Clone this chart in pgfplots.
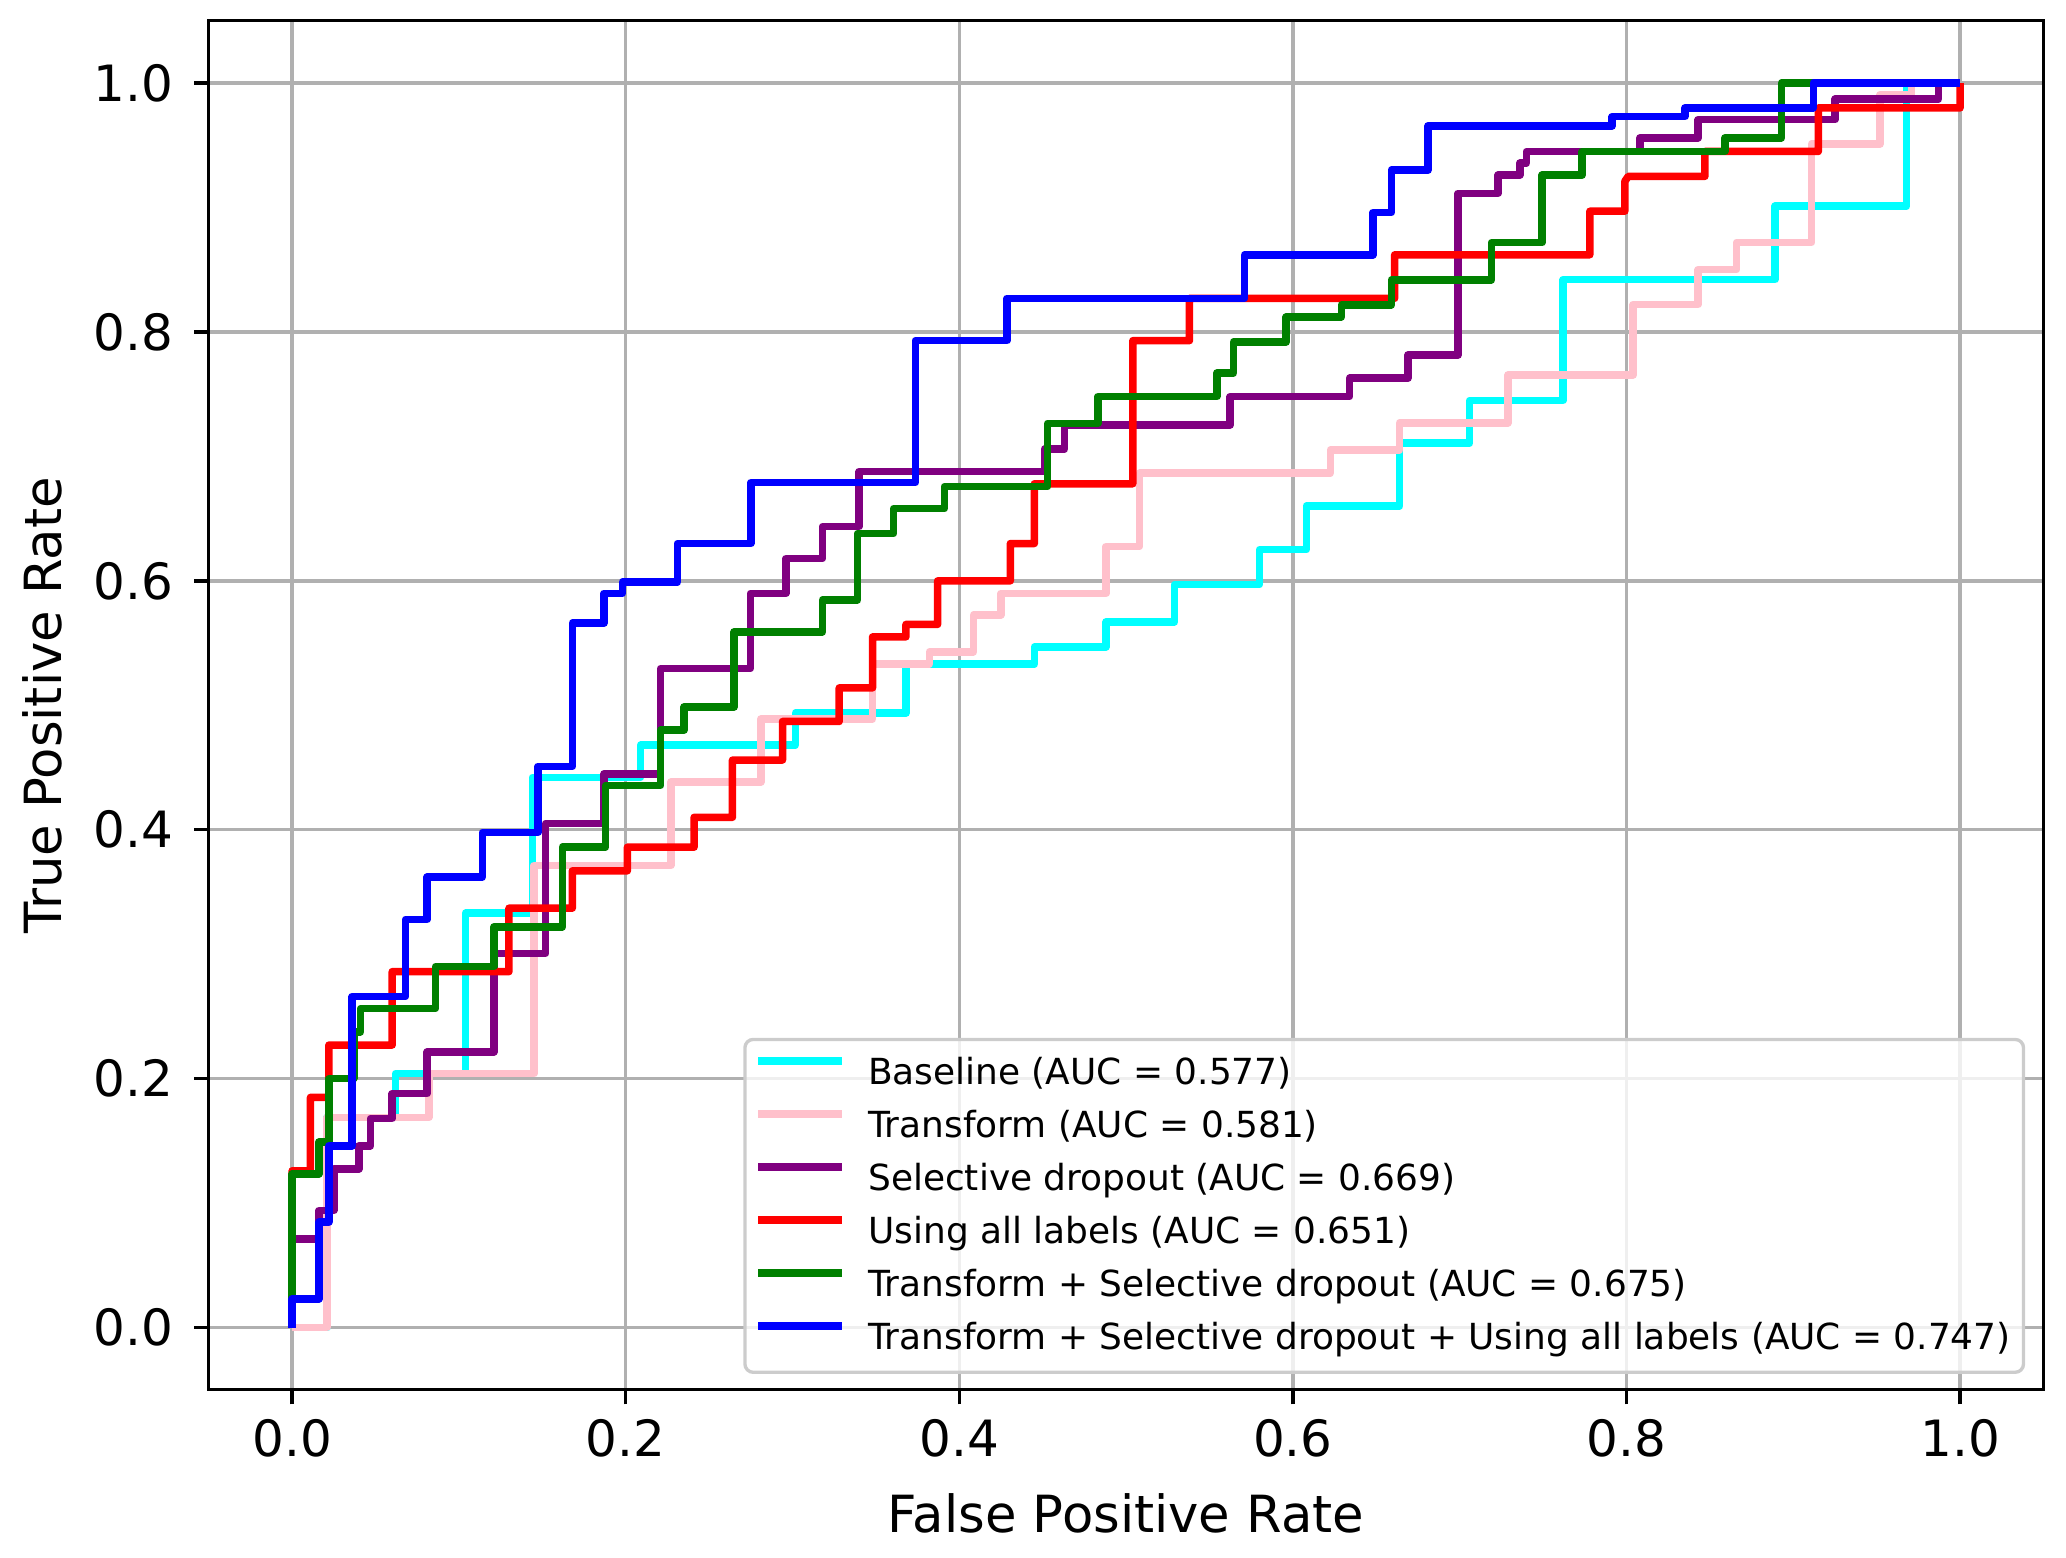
\documentclass[border=0pt]{standalone}
\usepackage{fontspec}
\setmainfont{DejaVu Sans}
\usepackage{pgfplots}
\pgfplotsset{compat=1.18}
\definecolor{mpink}{HTML}{FFC0CB}
\definecolor{mpurple}{HTML}{800080}
\definecolor{mgreen}{HTML}{008000}
\definecolor{mcyan}{HTML}{00FFFF}
\definecolor{mred}{HTML}{FF0000}
\definecolor{mblue}{HTML}{0000FF}
\definecolor{gridgray}{HTML}{B0B0B0}
\definecolor{leggray}{HTML}{CCCCCC}
\begin{document}
\begin{tikzpicture}
\begin{axis}[
  at={(0,0)}, anchor=south west,
  scale only axis, width=440.4pt, height=328.6pt,
  xmin=-0.05, xmax=1.05, ymin=-0.05, ymax=1.05,
  xtick={0,0.2,0.4,0.6,0.8,1}, ytick={0,0.2,0.4,0.6,0.8,1},
  grid=major, major grid style={gridgray, line width=0.8pt},
  tick align=outside, tick pos=left, major tick length=3.5pt,
  every tick/.style={black, line width=0.8pt},
  axis line style={line width=0.8pt},
  /pgf/number format/assume math mode=true,
  /pgf/number format/.cd, fixed, fixed zerofill, precision=1, /pgfplots/.cd,
  ticklabel style={font=\fontsize{12}{14}\selectfont},
  yticklabel style={xshift=-1.5pt},
  xlabel={False Positive Rate}, ylabel={True Positive Rate},
  label style={font=\fontsize{12.3}{14}\selectfont},
  xlabel style={at={([yshift=-21.3pt]axis description cs:0.5,0)}, anchor=north},
  ylabel style={at={([xshift=-31.7pt]axis description cs:0,0.5)}, anchor=south, rotate=0},
  legend cell align=left,
  legend image code/.code={\draw[#1, line cap=rect] (0pt,3pt) -- (18.5pt,3pt);},
  legend style={at={(rel axis cs:1,0)}, anchor=south east, xshift=-4.4pt, yshift=3.8pt,
    draw=leggray, line width=0.8pt, rounded corners=2pt, fill=white, fill opacity=0.8,
    draw opacity=1, text opacity=1, font=\fontsize{8.62}{10.3}\selectfont,
    inner xsep=3.1pt, inner ysep=4pt, row sep=4.42pt, column sep=6.2pt,
    nodes={inner sep=0pt, text height=6.8pt, text depth=1.5pt}},
  every axis plot/.append style={line width=1.8pt, line join=round, mark=none},
]
\addplot[mcyan] coordinates {(0,0)(0.021,0)(0.021,0.169)(0.062,0.169)(0.062,0.204)(0.104,0.204)(0.104,0.333)(0.144,0.333)(0.144,0.442)(0.209,0.442)(0.209,0.468)(0.3017,0.468)(0.3017,0.4937)(0.368,0.4937)(0.368,0.533)(0.445,0.533)(0.445,0.547)(0.488,0.547)(0.488,0.567)(0.529,0.567)(0.529,0.597)(0.580,0.597)(0.580,0.625)(0.608,0.625)(0.608,0.660)(0.664,0.660)(0.664,0.7106)(0.706,0.7106)(0.706,0.745)(0.762,0.745)(0.762,0.842)(0.889,0.842)(0.889,0.901)(0.968,0.901)(0.968,1)(1,1)};
\addlegendentry{Baseline (AUC = 0.577)}
\addplot[mpink] coordinates {(0,0)(0.021,0)(0.021,0.169)(0.082,0.169)(0.082,0.204)(0.145,0.204)(0.145,0.3713)(0.227,0.3713)(0.227,0.4383)(0.281,0.4383)(0.281,0.489)(0.348,0.489)(0.348,0.533)(0.382,0.533)(0.382,0.543)(0.4086,0.543)(0.4086,0.5727)(0.425,0.5727)(0.425,0.590)(0.488,0.590)(0.488,0.6276)(0.508,0.6276)(0.508,0.6865)(0.6224,0.6865)(0.6224,0.705)(0.664,0.705)(0.664,0.727)(0.729,0.727)(0.729,0.7655)(0.804,0.7655)(0.804,0.822)(0.843,0.822)(0.843,0.850)(0.866,0.850)(0.866,0.872)(0.911,0.872)(0.911,0.951)(0.952,0.951)(0.952,0.9906)(0.971,0.9906)(0.971,1)(1,1)};
\addlegendentry{Transform (AUC = 0.581)}
\addplot[mpurple] coordinates {(0,0)(0,0.071)(0.016,0.071)(0.016,0.094)(0.025,0.094)(0.025,0.1275)(0.040,0.1275)(0.040,0.146)(0.047,0.146)(0.047,0.168)(0.060,0.168)(0.060,0.188)(0.081,0.188)(0.081,0.2215)(0.121,0.2215)(0.121,0.3007)(0.152,0.3007)(0.152,0.405)(0.187,0.405)(0.187,0.445)(0.221,0.445)(0.221,0.5295)(0.2747,0.5295)(0.2747,0.590)(0.296,0.590)(0.296,0.618)(0.318,0.618)(0.318,0.6436)(0.340,0.6436)(0.340,0.6878)(0.451,0.6878)(0.451,0.7058)(0.463,0.7058)(0.463,0.7253)(0.5624,0.7253)(0.5624,0.748)(0.634,0.748)(0.634,0.7628)(0.669,0.7628)(0.669,0.7815)(0.699,0.7815)(0.699,0.9114)(0.723,0.9114)(0.723,0.926)(0.736,0.926)(0.736,0.9356)(0.740,0.9356)(0.740,0.945)(0.808,0.945)(0.808,0.956)(0.843,0.956)(0.843,0.9705)(0.925,0.9705)(0.925,0.987)(0.987,0.987)(0.987,1)(1,1)};
\addlegendentry{Selective dropout (AUC = 0.669)}
\addplot[mred] coordinates {(0,0)(0,0.126)(0.011,0.126)(0.011,0.185)(0.022,0.185)(0.022,0.227)(0.060,0.227)(0.060,0.286)(0.130,0.286)(0.130,0.337)(0.168,0.337)(0.168,0.367)(0.201,0.367)(0.201,0.386)(0.241,0.386)(0.241,0.410)(0.264,0.410)(0.264,0.456)(0.294,0.456)(0.294,0.487)(0.328,0.487)(0.328,0.514)(0.348,0.514)(0.348,0.555)(0.368,0.555)(0.368,0.565)(0.387,0.565)(0.387,0.600)(0.4306,0.600)(0.4306,0.630)(0.445,0.630)(0.445,0.678)(0.504,0.678)(0.504,0.793)(0.538,0.793)(0.538,0.827)(0.661,0.827)(0.661,0.862)(0.778,0.862)(0.778,0.897)(0.799,0.897)(0.799,0.921)(0.801,0.925)(0.847,0.925)(0.847,0.945)(0.915,0.945)(0.915,0.980)(1,0.980)(1,1)};
\addlegendentry{Using all labels (AUC = 0.651)}
\addplot[mgreen] coordinates {(0,0)(0,0.1235)(0.016,0.1235)(0.016,0.149)(0.022,0.149)(0.022,0.200)(0.037,0.200)(0.037,0.2376)(0.041,0.2376)(0.041,0.2564)(0.086,0.2564)(0.086,0.290)(0.121,0.290)(0.121,0.322)(0.162,0.322)(0.162,0.386)(0.188,0.386)(0.188,0.4357)(0.221,0.4357)(0.221,0.480)(0.235,0.480)(0.235,0.4987)(0.265,0.4987)(0.265,0.559)(0.318,0.559)(0.318,0.5847)(0.339,0.5847)(0.339,0.638)(0.3606,0.638)(0.3606,0.658)(0.391,0.658)(0.391,0.6758)(0.453,0.6758)(0.453,0.7266)(0.483,0.7266)(0.483,0.748)(0.5544,0.748)(0.5544,0.767)(0.5644,0.767)(0.5644,0.792)(0.596,0.792)(0.596,0.812)(0.629,0.812)(0.629,0.8217)(0.659,0.8217)(0.659,0.8418)(0.719,0.8418)(0.719,0.8717)(0.7494,0.8717)(0.7494,0.926)(0.7734,0.926)(0.7734,0.945)(0.859,0.945)(0.859,0.956)(0.893,0.956)(0.893,1)(1,1)};
\addlegendentry{Transform + Selective dropout (AUC = 0.675)}
\addplot[mblue] coordinates {(0,0)(0,0.023)(0.016,0.023)(0.016,0.085)(0.022,0.085)(0.022,0.146)(0.036,0.146)(0.036,0.266)(0.068,0.266)(0.068,0.328)(0.081,0.328)(0.081,0.362)(0.114,0.362)(0.114,0.398)(0.1475,0.398)(0.1475,0.451)(0.168,0.451)(0.168,0.566)(0.187,0.566)(0.187,0.590)(0.198,0.590)(0.198,0.599)(0.231,0.599)(0.231,0.630)(0.275,0.630)(0.275,0.679)(0.3736,0.679)(0.3736,0.793)(0.4286,0.793)(0.4286,0.827)(0.571,0.827)(0.571,0.862)(0.648,0.862)(0.648,0.896)(0.659,0.896)(0.659,0.930)(0.681,0.930)(0.681,0.9656)(0.7914,0.9656)(0.7914,0.973)(0.835,0.973)(0.835,0.980)(0.912,0.980)(0.912,1)(1,1)};
\addlegendentry{Transform + Selective dropout + Using all labels (AUC = 0.747)}
\end{axis}
\pgfresetboundingbox
\useasboundingbox (-50.1pt,-40.3pt) rectangle (445.8pt,333.6pt);
\end{tikzpicture}
\end{document}
